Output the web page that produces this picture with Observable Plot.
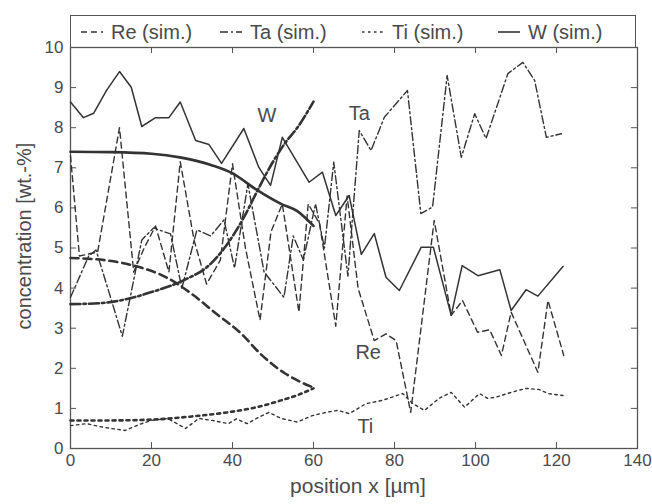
<!DOCTYPE html>
<html>
<head>
<meta charset="utf-8">
<script src="https://cdn.jsdelivr.net/npm/d3@7"></script>
<script src="https://cdn.jsdelivr.net/npm/@observablehq/plot@0.6"></script>
<style>
  html, body { margin: 0; padding: 0; background: #fff; }
  #wrap { position: relative; width: 652px; height: 504px; font-family: "Liberation Sans", Arial, Helvetica, sans-serif; color: #4a4a4a; }
  #legend { position: absolute; left: 70px; top: 15px; width: 566px; height: 32px; border: 1px solid #555; border-bottom: none; box-sizing: border-box; }
  .li { position: absolute; top: 0; height: 32px; display: flex; align-items: center; font-size: 20px; white-space: nowrap; }
  .li svg { margin-right: 8px; }
  #ylab { position: absolute; left: 24px; top: 236px; transform: translate(-50%, -50%) rotate(-90deg); font-size: 20px; white-space: nowrap; }
  #xlab { position: absolute; left: 358px; top: 474px; transform: translateX(-50%); font-size: 21px; white-space: nowrap; }
</style>
</head>
<body>
<div id="wrap"></div>
<script>
// ---------- data ----------
const xTicks = [0, 20, 40, 60, 80, 100, 120, 140];
const yTicks = [0, 1, 2, 3, 4, 5, 6, 7, 8, 9, 10];
const xInnerTicks = [20, 40, 60, 80, 100, 120];
const yInnerTicks = [1, 2, 3, 4, 5, 6, 7, 8, 9];

const legendLabels = ["Re (sim.)", "Ta (sim.)", "Ti (sim.)", "W (sim.)"];
const legendDash = ["6,4", "8,3,2,3", "2.5,3.5", "none"];
const legendLeft = [80, 219, 361, 497];

// simulated (smooth, thick)
const wSim = [[0,7.4],[10,7.39],[20,7.35],[27,7.26],[35,7.06],[40,6.86],[46,6.45],[52,6.1],[56,5.92],[60,5.55]];
const taSim = [[0,3.6],[8,3.63],[14,3.73],[20,3.9],[28,4.2],[34,4.55],[38,5.0],[43,5.8],[46,6.4],[50,7.15],[53,7.62],[56,8.0],[60,8.65]];
const reSim = [[0,4.75],[9,4.69],[16,4.55],[24,4.25],[30,3.85],[36,3.36],[42,2.88],[47,2.35],[53,1.87],[57,1.65],[60,1.52]];
const tiSim = [[0,0.7],[10,0.7],[20,0.72],[30,0.8],[40,0.92],[46,1.03],[52,1.2],[56,1.33],[60,1.5]];

// measured (jagged, thin)
const wMeas = [[0,8.64],[3.2,8.25],[5.7,8.36],[8.9,8.93],[12.1,9.4],[15,9.01],[17.6,8.03],[21,8.25],[24.3,8.25],[27.1,8.64],[30.9,7.68],[34.2,7.58],[37.3,7.11],[42.8,7.98],[46.5,7.01],[49.4,6.56],[52.3,7.76],[58.9,6.64],[62.2,6.89],[65.5,5.81],[68.8,6.31],[71.8,4.84],[75,5.36],[77.9,4.27],[81.2,3.94],[86.6,5.02],[89.6,5.02],[94,3.32],[96.7,4.56],[100.6,4.31],[106,4.46],[108.8,3.44],[112.5,3.96],[115.4,3.8],[121.6,4.54]];
const reMeas = [[0,7.3],[2.2,4.8],[6.7,4.9],[12.1,8.0],[15.6,4.4],[18.2,5.0],[21,5.55],[24.3,4.4],[27.1,7.15],[30.5,5.2],[33.6,4.1],[37,4.7],[40,7.1],[43.2,5.0],[46.8,3.2],[49.5,5.4],[52.3,6.1],[56.4,3.4],[58.7,6.1],[61.5,5.6],[65.5,3.05],[68.3,6.3],[71,4.0],[75,2.69],[77.9,2.86],[80.4,2.69],[84,0.9],[89.8,5.69],[94,3.32],[96.8,3.69],[100.5,2.9],[103.5,2.96],[106.4,2.32],[108.8,3.4],[115.4,1.9],[117.9,3.69],[121.8,2.32]];
const taMeas = [[0,3.77],[4.5,4.8],[6.3,4.95],[9.5,3.9],[12.8,2.8],[17.6,5.2],[20.5,5.5],[24.7,5.35],[27.5,4.0],[31.2,5.45],[34.6,5.3],[37.9,5.7],[40.5,4.5],[43.8,6.6],[47.8,4.4],[52.7,3.77],[55,5.3],[57.5,4.7],[60.5,6.1],[62.7,5.0],[65,7.14],[68.5,4.3],[71.3,7.93],[74.2,7.43],[77.5,8.26],[83.2,8.93],[86.5,5.86],[89.4,6.02],[93,9.3],[96.5,7.26],[99.8,8.35],[102.6,7.73],[108,9.35],[111.7,9.63],[114.6,9.18],[117.5,7.76],[121.2,7.85]];
const tiMeas = [[0,0.57],[4,0.62],[7,0.55],[10,0.5],[13.5,0.45],[17,0.6],[20,0.7],[24,0.75],[28.4,0.5],[31.7,0.75],[35,0.7],[39,0.62],[41,0.74],[43.6,0.62],[46.5,0.78],[49,0.9],[52,0.75],[56,0.66],[59.7,0.82],[63,0.9],[66,0.95],[68.8,0.87],[73,1.12],[77,1.2],[82,1.37],[84.5,1.12],[87.4,0.95],[91,1.25],[94,1.4],[97.3,1.03],[101,1.37],[103,1.25],[105,1.28],[108.8,1.4],[112.5,1.5],[115.7,1.47],[118,1.37],[121.6,1.32]];

const labelText = ["W", "Ta", "Re", "Ti"];
const labelX = [48.5, 71.3, 73.5, 72.8];
const labelY = [8.3, 8.35, 2.4, 0.55];

// ---------- chart ----------
const ink = "#333";
const X = d => d[0], Y = d => d[1];
const labels = labelText.map((t, i) => ({t, x: labelX[i], y: labelY[i]}));

const chart = Plot.plot({
  width: 652,
  height: 504,
  marginTop: 47,
  marginLeft: 70,
  marginRight: 15,
  marginBottom: 56,
  style: {fontFamily: "'Liberation Sans', Arial, Helvetica, sans-serif", fontSize: "17px", color: "#4a4a4a", background: "transparent"},
  x: {domain: [0, 140], ticks: xTicks, tickSize: 0, tickPadding: 5, label: null},
  y: {domain: [0, 10], ticks: yTicks, tickSize: 0, tickPadding: 7, label: null},
  marks: [
    Plot.frame({stroke: "#555", strokeWidth: 1.3}),
    Plot.ruleY(yInnerTicks, {y: d => d, x1: 0, x2: 1.5, stroke: "#555"}),
    Plot.ruleY(yInnerTicks, {y: d => d, x1: 138.5, x2: 140, stroke: "#555"}),
    Plot.ruleX(xInnerTicks, {x: d => d, y1: 0, y2: 0.15, stroke: "#555"}),
    Plot.ruleX(xInnerTicks, {x: d => d, y1: 9.85, y2: 10, stroke: "#555"}),
    // measured
    Plot.line(tiMeas, {x: X, y: Y, stroke: ink, strokeWidth: 1.4, strokeDasharray: "2.5,3.5"}),
    Plot.line(reMeas, {x: X, y: Y, stroke: ink, strokeWidth: 1.4, strokeDasharray: "6,4"}),
    Plot.line(taMeas, {x: X, y: Y, stroke: ink, strokeWidth: 1.4, strokeDasharray: "8,3,2,3"}),
    Plot.line(wMeas, {x: X, y: Y, stroke: ink, strokeWidth: 1.5}),
    // simulated
    Plot.line(tiSim, {x: X, y: Y, stroke: ink, strokeWidth: 2.6, strokeDasharray: "3,4", curve: "monotone-x"}),
    Plot.line(reSim, {x: X, y: Y, stroke: ink, strokeWidth: 2.6, strokeDasharray: "8,5", curve: "monotone-x"}),
    Plot.line(taSim, {x: X, y: Y, stroke: ink, strokeWidth: 2.6, strokeDasharray: "10,3,2.5,3", curve: "monotone-x"}),
    Plot.line(wSim, {x: X, y: Y, stroke: ink, strokeWidth: 2.6, curve: "monotone-x"}),
    Plot.text(labels, {x: "x", y: "y", text: "t", fontSize: 20, fill: "#4a4a4a"})
  ]
});

const wrap = document.getElementById("wrap");
chart.style.position = "absolute";
chart.style.left = "0px";
chart.style.top = "0px";
wrap.appendChild(chart);

// legend (HTML, above the y=10 line)
const legend = document.createElement("div");
legend.id = "legend";
legendLabels.forEach((lab, i) => {
  const item = document.createElement("div");
  item.className = "li";
  item.style.left = (legendLeft[i] - 70) + "px";
  const dash = legendDash[i] === "none" ? "" : `stroke-dasharray="${legendDash[i]}"`;
  item.innerHTML = `<svg width="22" height="4"><line x1="0" y1="2" x2="22" y2="2" stroke="${ink}" stroke-width="1.6" ${dash}/></svg><span>${lab}</span>`;
  legend.appendChild(item);
});
wrap.appendChild(legend);

const ylab = document.createElement("div");
ylab.id = "ylab";
ylab.textContent = "concentration [wt.-%]";
wrap.appendChild(ylab);

const xlab = document.createElement("div");
xlab.id = "xlab";
xlab.textContent = "position x [µm]";
wrap.appendChild(xlab);
</script>
</body>
</html>
